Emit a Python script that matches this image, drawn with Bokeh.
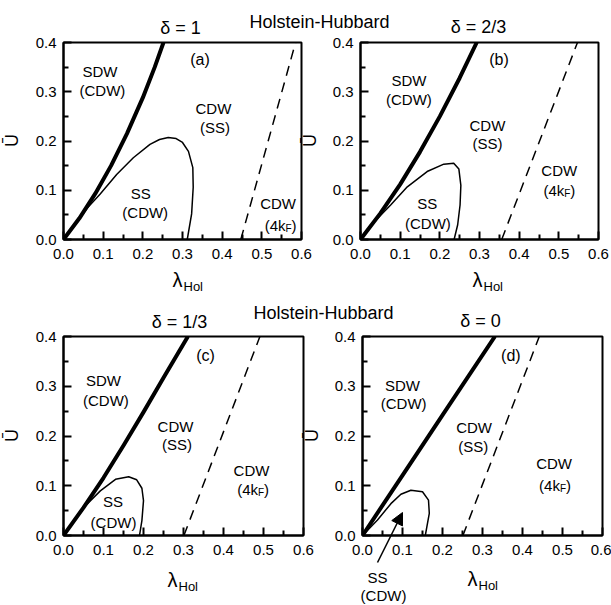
import math

from bokeh.plotting import figure
from bokeh.layouts import row, column
from bokeh.models import (Range1d, FixedTicker, PrintfTickFormatter, Label,
                          Arrow, NormalHead)
from bokeh.embed import file_html
from bokeh.resources import INLINE

FONT = "Liberation Sans"

# axis ticks
x_major = [0.0, 0.1, 0.2, 0.3, 0.4, 0.5, 0.6]
x_minor = [0.05, 0.15, 0.25, 0.35, 0.45, 0.55]
y_major = [0.0, 0.1, 0.2, 0.3, 0.4]
y_minor = [0.05, 0.15, 0.25, 0.35]

# panel titles (filling delta)
deltas = ["\u03b4 = 1", "\u03b4 = 2/3", "\u03b4 = 1/3", "\u03b4 = 0"]
tags = ["(a)", "(b)", "(c)", "(d)"]

# SDW / CDW boundary (thick line)
a_thick_lam = [0.0, 0.04, 0.08, 0.12, 0.16, 0.20, 0.23, 0.252]
a_thick_u = [0.0, 0.043, 0.093, 0.150, 0.215, 0.288, 0.350, 0.400]
b_thick_lam = [0.0, 0.05, 0.10, 0.15, 0.20, 0.25, 0.293]
b_thick_u = [0.0, 0.053, 0.112, 0.178, 0.250, 0.328, 0.400]
c_thick_lam = [0.0, 0.05, 0.10, 0.15, 0.20, 0.25, 0.311]
c_thick_u = [0.0, 0.056, 0.116, 0.181, 0.248, 0.317, 0.400]
d_thick_lam = [0.0, 0.10, 0.20, 0.331]
d_thick_u = [0.0, 0.121, 0.242, 0.400]

# SS pocket boundary (thin line)
a_loop_lam = [0.0, 0.03, 0.06, 0.092, 0.134, 0.176, 0.218, 0.242, 0.264, 0.284,
              0.300, 0.315, 0.326, 0.327, 0.323, 0.312]
a_loop_u = [0.0, 0.032, 0.064, 0.092, 0.132, 0.166, 0.193, 0.203, 0.207, 0.205,
            0.197, 0.179, 0.146, 0.106, 0.052, 0.0]
b_loop_lam = [0.0, 0.035, 0.076, 0.118, 0.168, 0.21, 0.235, 0.248, 0.253, 0.251,
              0.245, 0.236]
b_loop_u = [0.0, 0.036, 0.070, 0.107, 0.138, 0.153, 0.155, 0.143, 0.110, 0.070,
            0.030, 0.0]
c_loop_lam = [0.0, 0.05, 0.092, 0.13, 0.163, 0.183, 0.196, 0.200, 0.196, 0.190]
c_loop_u = [0.0, 0.056, 0.0897, 0.113, 0.118, 0.112, 0.095, 0.070, 0.030, 0.0]
d_loop_lam = [0.0, 0.0375, 0.071, 0.096, 0.121, 0.150, 0.165, 0.167, 0.161, 0.157]
d_loop_u = [0.0, 0.031, 0.064, 0.083, 0.091, 0.088, 0.071, 0.0445, 0.018, 0.0]

# CDW(SS) / CDW(4kF) crossover (dashed line)
a_dash_lam = [0.447, 0.585]
b_dash_lam = [0.356, 0.547]
c_dash_lam = [0.301, 0.491]
d_dash_lam = [0.251, 0.442]
dash_u = [0.0, 0.4]

# region label anchors: (lam, U) of the text centres
sdw_xy = [(0.092, 0.342), (0.122, 0.323), (0.100, 0.311), (0.100, 0.302)]
sdw_sub_xy = [(0.098, 0.302), (0.122, 0.285), (0.106, 0.272), (0.103, 0.266)]
tag_xy = [(0.344, 0.365), (0.349, 0.365), (0.355, 0.361), (0.371, 0.362)]
cdw_xy = [(0.378, 0.266), (0.320, 0.232), (0.280, 0.219), (0.279, 0.217)]
cdw_sub_xy = [(0.382, 0.228), (0.320, 0.194), (0.284, 0.183), (0.277, 0.179)]
ss_xy = [(0.195, 0.094), (0.168, 0.073), (0.124, 0.068)]
ss_sub_xy = [(0.206, 0.054), (0.170, 0.032), (0.125, 0.027)]
kf_xy = [(0.541, 0.074), (0.501, 0.141), (0.470, 0.130), (0.479, 0.144)]
kf_sub_xy = [(0.547, 0.029), (0.501, 0.099), (0.474, 0.092), (0.481, 0.100)]


def text(p, x, y, s, size="15px", align="center", baseline="middle", xo=0, yo=0,
         angle=0.0):
    p.add_layout(Label(x=x, y=y, text=s, text_font=FONT, text_font_size=size,
                       text_align=align, text_baseline=baseline, angle=angle,
                       x_offset=xo, y_offset=yo, text_color="black"))


def four_kf(p, x, y):
    # "(4k_F)" with a lowered, smaller F
    text(p, x, y, "(4k", align="right", xo=5)
    text(p, x, y, "F", size="10px", align="left", xo=5, yo=-3)
    text(p, x, y, ")", align="left", xo=11)


def panel(width, height, left, right, top, bottom, margin=(0, 0, 0, 0)):
    p = figure(width=width, height=height, output_backend="svg",
               toolbar_location=None, title=None,
               x_range=Range1d(0, 0.6), y_range=Range1d(0, 0.4),
               min_border_left=left, min_border_right=right,
               min_border_top=top, min_border_bottom=bottom, margin=margin)
    p.border_fill_color = None
    p.background_fill_color = "white"
    p.outline_line_color = "black"
    p.outline_line_width = 2
    p.outline_line_alpha = 1
    p.xgrid.visible = False
    p.ygrid.visible = False

    p.xaxis.ticker = FixedTicker(ticks=x_major, minor_ticks=x_minor)
    p.yaxis.ticker = FixedTicker(ticks=y_major, minor_ticks=y_minor)
    for ax in (p.xaxis, p.yaxis):
        ax.formatter = PrintfTickFormatter(format="%.1f")
        ax.axis_line_width = 2
        ax.major_tick_in = 8
        ax.major_tick_out = 0
        ax.minor_tick_in = 5
        ax.minor_tick_out = 0
        ax.major_tick_line_width = 2
        ax.minor_tick_line_width = 2
        ax.major_label_text_font = FONT
        ax.major_label_text_font_size = "15px"
        ax.major_label_text_color = "black"
    p.xaxis.major_label_standoff = 9
    p.yaxis.major_label_standoff = 7
    return p


def draw(p, i, thick_lam, thick_u, loop_lam, loop_u, dash_lam):
    p.line(thick_lam, thick_u, line_color="black", line_width=4, line_join="round")
    p.line(loop_lam, loop_u, line_color="black", line_width=1.5, line_join="round")
    p.line(dash_lam, dash_u, line_color="black", line_width=1.5, line_dash="10 7")

    text(p, tag_xy[i][0], tag_xy[i][1], tags[i], size="16px")
    text(p, sdw_xy[i][0], sdw_xy[i][1], "SDW")
    text(p, sdw_sub_xy[i][0], sdw_sub_xy[i][1], "(CDW)")
    text(p, cdw_xy[i][0], cdw_xy[i][1], "CDW")
    text(p, cdw_sub_xy[i][0], cdw_sub_xy[i][1], "(SS)")
    if i < 3:
        text(p, ss_xy[i][0], ss_xy[i][1], "SS")
        text(p, ss_sub_xy[i][0], ss_sub_xy[i][1], "(CDW)")
    text(p, kf_xy[i][0], kf_xy[i][1], "CDW")
    four_kf(p, kf_sub_xy[i][0], kf_sub_xy[i][1])


pa = panel(400, 295, 63, 99, 40, 56)
pb = panel(321, 295, 70, 13, 42, 56, margin=(0, 0, 0, -110))
pc = panel(400, 310, 63, 97, 39, 70)
pd = panel(321, 310, 72, 9, 41, 70, margin=(0, 0, 0, -110))

draw(pa, 0, a_thick_lam, a_thick_u, a_loop_lam, a_loop_u, a_dash_lam)
draw(pb, 1, b_thick_lam, b_thick_u, b_loop_lam, b_loop_u, b_dash_lam)
draw(pc, 2, c_thick_lam, c_thick_u, c_loop_lam, c_loop_u, c_dash_lam)
draw(pd, 3, d_thick_lam, d_thick_u, d_loop_lam, d_loop_u, d_dash_lam)

# transparent page-sized layer (pixel coordinates, y downward) for the texts
# that sit outside the plotting frames
ov = figure(width=611, height=605, output_backend="svg", toolbar_location=None,
            title=None, x_range=Range1d(0, 611), y_range=Range1d(605, 0),
            x_axis_location=None, y_axis_location=None, min_border=0,
            margin=(-605, 0, 0, 0))
ov.outline_line_color = None
ov.background_fill_color = None
ov.border_fill_color = None
ov.xgrid.visible = False
ov.ygrid.visible = False

text(ov, 319, 21, "Holstein-Hubbard", size="18px")
text(ov, 323, 312, "Holstein-Hubbard", size="18px")

for (cx, cy), s in zip([(180, 27), (478, 26), (179, 321), (480, 320)], deltas):
    text(ov, cx, cy, s, size="18px")

# U-bar axis titles, reading upwards
for ux, uy in [(11, 140), (309, 140), (11, 435), (311, 435)]:
    text(ov, ux, uy, "\u016a", size="18px", angle=math.pi / 2)

# lambda_Hol axis titles
for lx, ly in [(182, 279), (482, 279), (177, 579), (477, 578)]:
    text(ov, lx, ly, "\u03bb", size="20px", align="right")
    text(ov, lx + 1, ly + 7, "Hol", size="13px", align="left")

# pointer to the small SS pocket at zero doping
ov.add_layout(Arrow(x_start=377, y_start=562, x_end=402, y_end=512,
                    line_color="black", line_width=1.5,
                    end=NormalHead(size=12, fill_color="black", line_color="black")))
text(ov, 377, 577, "SS")
text(ov, 383, 595, "(CDW)")

layout = column(row(pa, pb), row(pc, pd), ov)

with open("out.html", "w") as f:
    f.write(file_html(layout, INLINE))
